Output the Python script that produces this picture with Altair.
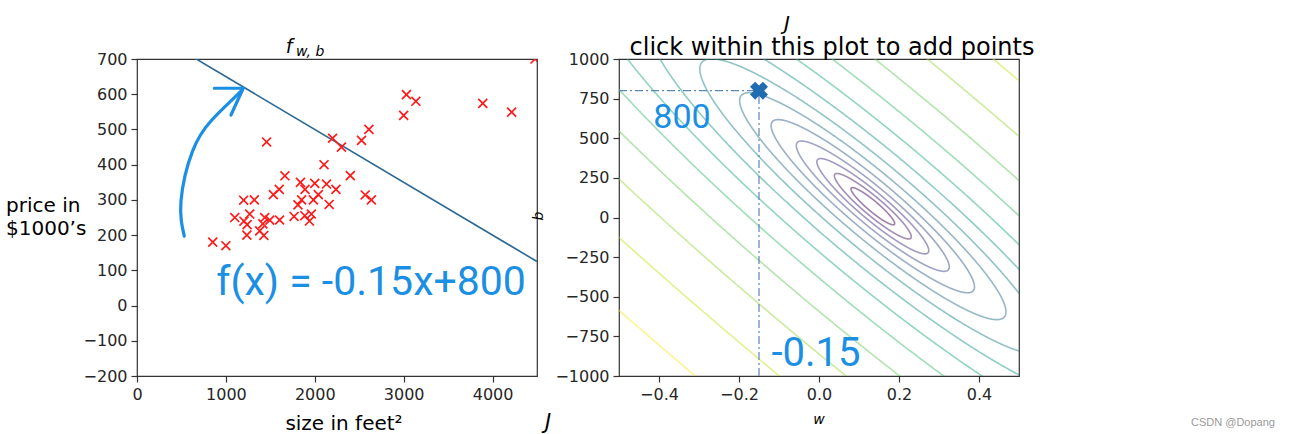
import numpy as np
import pandas as pd
import altair as alt

# ---------------- data ----------------
size_sqft = [2104, 1600, 2400, 1416, 3000, 1985, 1534, 1427, 1380, 1494, 1940, 2000,
             1890, 4478, 1268, 2300, 1320, 1236, 2609, 3031, 1767, 1888, 1604, 1962,
             3890, 1100, 1458, 2526, 2200, 2637, 1839, 1000, 2040, 3137, 1811, 1437,
             1239, 2132, 4215, 2162, 1664, 2238, 2567, 1200, 852, 1852, 1203]
price_k = [399.9, 329.9, 369.0, 232.0, 539.9, 299.9, 314.9, 199.0, 212.0, 242.5, 240.0,
           347.0, 330.0, 699.9, 259.9, 449.9, 299.9, 199.9, 500.0, 599.0, 252.9, 255.0,
           242.9, 259.9, 573.9, 249.9, 464.5, 469.0, 475.0, 299.9, 349.9, 169.9, 314.9,
           579.9, 285.9, 249.9, 229.9, 345.0, 549.0, 287.0, 368.5, 329.9, 314.0, 299.0,
           179.9, 299.9, 239.5]

w_model = -0.15
b_model = 800.0

x_range = [0, 4500]
price_range = [-200, 700]
w_range = [-0.5, 0.5]
b_range = [-1000, 1000]

x_ticks = [0, 1000, 2000, 3000, 4000]
price_ticks = [-200, -100, 0, 100, 200, 300, 400, 500, 600, 700]
w_ticks = [-0.4, -0.2, 0.0, 0.2, 0.4]
b_ticks = [-1000, -750, -500, -250, 0, 250, 500, 750, 1000]

log_cost_levels = [8.0, 8.5, 9.0, 9.5, 10.0, 10.5, 11.0, 11.5, 12.0, 12.5, 13.0, 13.5, 14.0, 14.5]

# hand-drawn annotation arrow (data units of the left panel)
arrow_x = [532, 495, 626, 832, 1057, 1170]
arrow_y = [197, 297, 439, 524, 581, 609]
arrow_head_x = [870, 1195, 1057]
arrow_head_y = [617, 617, 541]

# ---------------- derived tables ----------------
houses = pd.DataFrame({"size": size_sqft, "price": price_k})
model_line = pd.DataFrame({"size": x_range,
                           "price": [w_model * v + b_model for v in x_range]})

xs = np.array(size_sqft, float)
ys = np.array(price_k, float)
H = np.array([[np.mean(xs * xs), np.mean(xs)], [np.mean(xs), 1.0]])
g = np.array([np.mean(xs * ys), np.mean(ys)])
theta = np.linalg.solve(H, g)
J_min = np.mean((theta[0] * xs + theta[1] - ys) ** 2) / 2
Linv_T = np.linalg.inv(np.linalg.cholesky(H)).T
tt = np.linspace(0, 2 * np.pi, 2401)
rows = []
for lvl in log_cost_levels:
    r = np.sqrt(2 * (np.exp(lvl) - J_min))
    pts = theta[:, None] + Linv_T @ (r * np.vstack([np.cos(tt), np.sin(tt)]))
    for i in range(len(tt)):
        rows.append({"level": lvl, "i": i, "w": pts[0, i], "b": pts[1, i]})
contours = pd.DataFrame(rows)

arrow = pd.DataFrame({"size": arrow_x, "price": arrow_y, "o": range(len(arrow_x))})
arrow_head = pd.DataFrame({"size": arrow_head_x, "price": arrow_head_y,
                           "o": range(len(arrow_head_x))})

one = pd.DataFrame({"a": [0]})
FONT = "DejaVu Sans"
HAND = "#1a8fe3"


def label(text, x, y, size=15, **kw):
    return alt.Chart(one).mark_text(text=text, fontSize=size, font=kw.pop("font", FONT),
                                    **kw).encode(x=alt.value(x), y=alt.value(y))


W, Hh = 400, 317

# ---------------- left panel ----------------
xs_scale = alt.Scale(domain=x_range, nice=False, zero=False)
ys_scale = alt.Scale(domain=price_range, nice=False, zero=False)
xax = alt.Axis(values=x_ticks, format="d", title=None)
yax = alt.Axis(values=price_ticks, format="d", title=None)
X_L = alt.X("size:Q", scale=xs_scale, axis=xax)
Y_L = alt.Y("price:Q", scale=ys_scale, axis=yax)

pts_layer = alt.Chart(houses).mark_point(
    shape="M-1,-1L1,1M-1,1L1,-1", size=80, strokeWidth=1.7, color="#ff1a1a",
    filled=False, clip=True, opacity=1
).encode(x=X_L, y=Y_L)

line_layer = alt.Chart(model_line).mark_line(color="#2b6895", strokeWidth=1.6, clip=True).encode(
    x=X_L, y=Y_L)

arrow_layer = alt.Chart(arrow).mark_line(color=HAND, strokeWidth=3.2, interpolate="natural",
                                         strokeCap="round").encode(
    x=X_L, y=Y_L, order="o:Q")
head_layer = alt.Chart(arrow_head).mark_line(color=HAND, strokeWidth=3.2, strokeCap="round",
                                             strokeJoin="round").encode(
    x=X_L, y=Y_L, order="o:Q")

anchor = alt.Chart(one).mark_rule(opacity=0, strokeWidth=1).encode(
    x=alt.value(-135.5), y=alt.value(-57.5), x2=alt.value(-134.5), y2=alt.value(375.5))

left = alt.layer(
    anchor,
    line_layer,
    pts_layer,
    arrow_layer,
    head_layer,
    label("f(x) = -0.15x+800", 234, 224, size=41, color=HAND, font="Roboto"),
    label("f", 152, -12, size=19, fontStyle="italic"),
    label("w, b", 159, -7, size=14, fontStyle="italic", align="left"),
    label("price in", -131, 147, size=20, align="left"),
    label("$1000\u2019s", -131, 170, size=20, align="left"),
    label("size in feet\u00b2", 207, 365, size=20),
    label("J", 411, 364, size=21, fontStyle="italic"),
).properties(width=W, height=Hh)

# ---------------- right panel ----------------
ws_scale = alt.Scale(domain=w_range, nice=False, zero=False)
bs_scale = alt.Scale(domain=b_range, nice=False, zero=False)
X_R = alt.X("w:Q", scale=ws_scale, axis=alt.Axis(values=w_ticks, format=".1f", title=None))
Y_R = alt.Y("b:Q", scale=bs_scale, axis=alt.Axis(values=b_ticks, format="d", title=None))

contour_layer = alt.Chart(contours).mark_line(strokeWidth=1.6, opacity=0.5, clip=True).encode(
    x=X_R,
    y=Y_R,
    color=alt.Color("level:Q", scale=alt.Scale(scheme="viridis"), legend=None),
    detail="level:N",
    order="i:Q",
)

hline = alt.Chart(pd.DataFrame({"w": [w_range[0]], "w2": [w_model], "b": [b_model]})).mark_rule(
    color="#5a88b0", strokeWidth=1.2, strokeDash=[8, 3, 2, 3]).encode(
    x=X_R, x2="w2:Q", y=Y_R)
vline = alt.Chart(pd.DataFrame({"w": [w_model], "b": [b_range[0]], "b2": [b_model]})).mark_rule(
    color="#5a88b0", strokeWidth=1.2, strokeDash=[8, 3, 2, 3]).encode(
    x=X_R, y=Y_R, y2="b2:Q")

marker = alt.Chart(pd.DataFrame({"w": [w_model], "b": [b_model]})).mark_point(
    shape="cross", angle=45, size=330, filled=True, color="#1f6db0", opacity=1).encode(
    x=X_R, y=Y_R)

right = alt.layer(
    contour_layer,
    hline,
    vline,
    marker,
    label("800", 63, 59, size=34, color=HAND, font="Roboto"),
    label("-0.15", 197, 295, size=40, color=HAND, font="Roboto"),
    label("J", 168, -35, size=20, fontStyle="italic"),
    label("click within this plot to add points", 213, -11, size=24),
    label("w", 200, 361, size=14, fontStyle="italic"),
    label("b", -80, 157, size=14, fontStyle="italic", angle=270),
    label("CSDN @Dopang", 614, 364, size=11, color="#9a9a9a", font="Liberation Sans"),
).properties(width=W, height=Hh)

chart = alt.hconcat(left, right, spacing=82, bounds="flush").properties(
    padding=0, background="white"
).configure_view(stroke="#333333", strokeWidth=1.2).configure_axis(
    domain=False, grid=False, ticks=True, tickSize=6, tickColor="#333333", tickWidth=1.2,
    labelFont=FONT, labelFontSize=16, labelColor="#262626", labelPadding=4,
    labelOverlap=False, labelFlush=False, labelBound=False,
)

chart.save("out.html", embed_options={"renderer": "svg", "actions": False})
